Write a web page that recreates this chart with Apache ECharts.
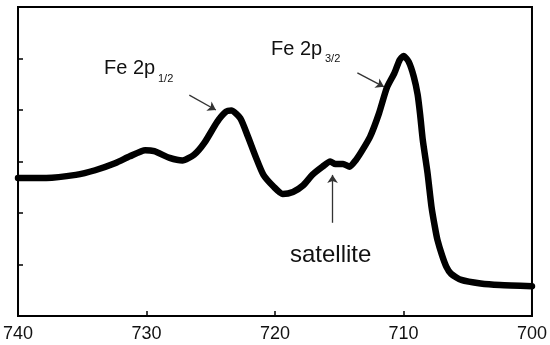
<!DOCTYPE html>
<html>
<head>
<meta charset="utf-8">
<script src="https://cdn.jsdelivr.net/npm/echarts@6/dist/echarts.min.js"></script>
<style>
  html, body { margin: 0; padding: 0; background: #fff; }
  #chart { width: 550px; height: 345px; }
</style>
</head>
<body>
<div id="chart"></div>
<script>
// Fe 2p XPS spectrum: binding energy (eV) and intensity (arb. units)
const bindingEnergy = [
  740.0, 737.8, 735.5, 734.0, 732.4, 731.3, 730.1, 729.4, 728.2, 727.2,
  726.3, 725.5, 724.5, 723.8, 723.4, 722.7, 722.1, 721.5, 720.9, 720.1,
  719.4, 718.6, 717.8, 717.1, 716.3, 715.7, 715.3, 714.7, 714.2, 713.7,
  713.2, 712.6, 711.9, 711.3, 710.7, 710.3, 710.0, 709.6, 709.2, 708.9,
  708.7, 708.5, 708.13, 707.82, 707.55, 707.36, 707.0, 706.67, 706.3, 705.5,
  704.0, 702.5, 700.0
];
const intensity = [
  2.68, 2.68, 2.74, 2.83, 2.97, 3.10, 3.22, 3.20, 3.07, 3.02,
  3.13, 3.36, 3.77, 3.97, 3.99, 3.84, 3.48, 3.09, 2.74, 2.51,
  2.37, 2.41, 2.54, 2.74, 2.90, 3.00, 2.95, 2.95, 2.90, 3.03,
  3.22, 3.48, 3.94, 4.43, 4.72, 4.97, 5.05, 4.94, 4.65, 4.30,
  3.90, 3.42, 2.78, 2.12, 1.72, 1.48, 1.18, 0.96, 0.82, 0.70,
  0.63, 0.60, 0.58
];
const xTicks = { min: 700, max: 740, step: 10 };
const yTicks = { min: 0, max: 6, step: 1 };

// annotation arrows: [startEnergy, startIntensity, endEnergy, endIntensity]
const arrowP12 = [726.67, 4.29, 724.6, 4.0];
const arrowP32 = [713.59, 4.72, 711.52, 4.45];
const arrowSat = [715.52, 1.81, 715.52, 2.74];

const spectrum = bindingEnergy.map((e, i) => [e, intensity[i]]);

const arrowLine = a => [{ coord: [a[0], a[1]] }, { coord: [a[2], a[3]] }];

const chart = echarts.init(document.getElementById('chart'));
const font = '"Liberation Sans", Arial, sans-serif';

chart.setOption({
  animation: false,
  backgroundColor: '#fff',
  grid: {
    left: 12, right: 18, top: 7, bottom: 29,
    show: true, borderColor: '#000', borderWidth: 2, backgroundColor: 'transparent'
  },
  xAxis: {
    type: 'value', inverse: true,
    min: xTicks.min, max: xTicks.max, interval: xTicks.step,
    axisLine: { show: true, lineStyle: { color: '#000', width: 2 } },
    axisTick: { show: true, inside: true, length: 5, lineStyle: { color: '#000', width: 1.5 } },
    axisLabel: { color: '#111', fontSize: 18, fontFamily: font, margin: 9 },
    splitLine: { show: false }
  },
  yAxis: {
    type: 'value',
    min: yTicks.min, max: yTicks.max, interval: yTicks.step,
    axisLine: { show: true, lineStyle: { color: '#000', width: 2 } },
    axisTick: { show: true, inside: true, length: 5, lineStyle: { color: '#000', width: 1.5 } },
    axisLabel: { show: false },
    splitLine: { show: false }
  },
  series: [
    {
      type: 'line',
      data: spectrum,
      smooth: 0.2,
      showSymbol: false,
      lineStyle: { color: '#000', width: 6.5, cap: 'round', join: 'round' },
      z: 3
    },
    {
      type: 'line',
      data: [],
      markLine: {
        silent: true,
        symbol: ['none', 'arrow'],
        symbolSize: 8,
        label: { show: false },
        lineStyle: { color: '#333', width: 1.3, type: 'solid' },
        data: [arrowLine(arrowP12), arrowLine(arrowP32), arrowLine(arrowSat)]
      }
    }
  ],
  graphic: [
    { type: 'text', left: 104, top: 58, style: { text: 'Fe 2p', font: '20px ' + font, fill: '#111' } },
    { type: 'text', left: 158, top: 73, style: { text: '1/2', font: '11px ' + font, fill: '#111' } },
    { type: 'text', left: 271, top: 39, style: { text: 'Fe 2p', font: '20px ' + font, fill: '#111' } },
    { type: 'text', left: 325, top: 53, style: { text: '3/2', font: '11px ' + font, fill: '#111' } },
    { type: 'text', left: 290, top: 243, style: { text: 'satellite', font: '24px ' + font, fill: '#111' } }
  ]
});
</script>
</body>
</html>
